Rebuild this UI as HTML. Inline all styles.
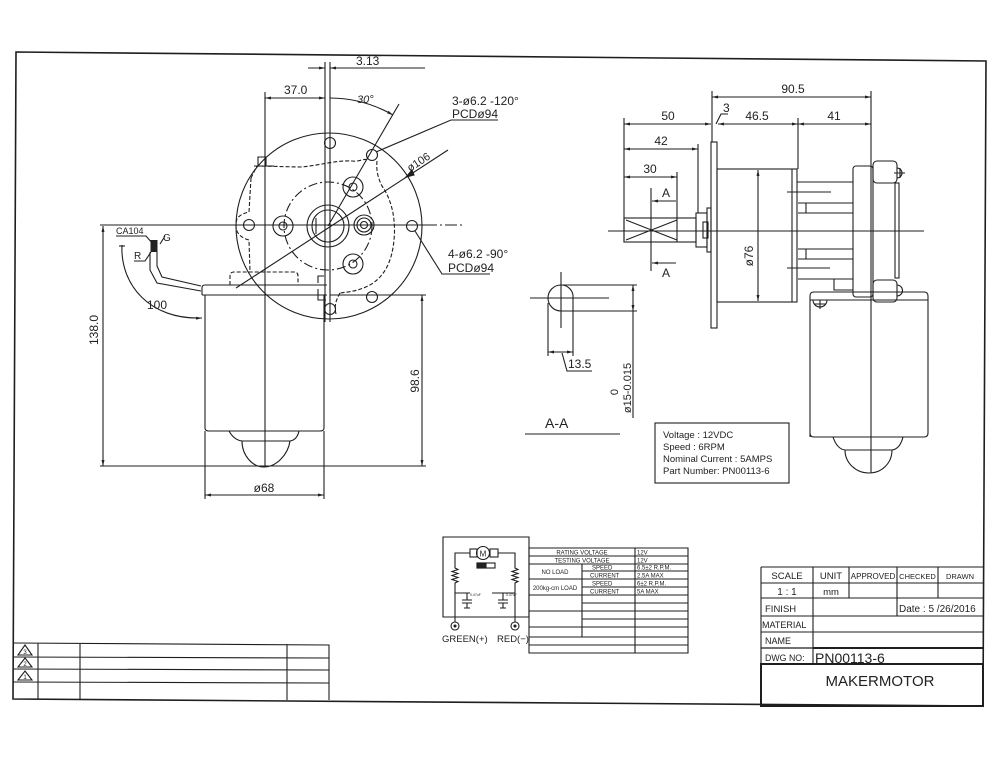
<!DOCTYPE html>
<html><head><meta charset="utf-8">
<style>
html,body{margin:0;padding:0;background:#fff;}
svg{display:block;}
text{font-family:"Liberation Sans",sans-serif;fill:#222;stroke:none;}
</style></head><body>
<svg width="1000" height="773" viewBox="0 0 1000 773" xmlns="http://www.w3.org/2000/svg">
<defs>
<marker id="ar" viewBox="0 0 8 4" refX="8" refY="2" markerWidth="8" markerHeight="3" markerUnits="userSpaceOnUse" orient="auto-start-reverse">
<path d="M0,0 L8,2 L0,4 z" fill="#222"/></marker>
</defs>
<rect width="1000" height="773" fill="#fff"/>
<g stroke="#1e1e1e" stroke-width="1.1" fill="none">
<!-- page border -->
<path d="M16,52 L986,61 L983,706 L13,699 Z" stroke-width="1.6"/>

<!-- ===== FRONT VIEW ===== -->
<circle cx="329" cy="226" r="93"/>
<circle cx="328" cy="226" r="44" stroke-dasharray="9,3,2,3"/>
<circle cx="330" cy="143" r="5.5"/>
<circle cx="249" cy="225" r="5.5"/>
<circle cx="412" cy="226" r="5.5"/>
<circle cx="372" cy="155" r="5.5"/>
<circle cx="372" cy="297" r="5.5"/>
<circle cx="330" cy="309" r="5.5"/>
<circle cx="353" cy="187" r="10"/><circle cx="353" cy="187" r="4"/>
<circle cx="283" cy="226" r="10"/><circle cx="283" cy="226" r="4"/>
<circle cx="364" cy="225" r="10"/><circle cx="364" cy="225" r="7"/><circle cx="364" cy="225" r="3.5"/>
<circle cx="353" cy="264" r="10"/><circle cx="353" cy="264" r="4"/>
<circle cx="328" cy="226" r="21"/><circle cx="328" cy="226" r="16"/>
<path d="M316,218 L316,234"/>
<!-- dashed gearbox outline -->
<g stroke-dasharray="4,2">
<path d="M251,178 L257,166 L300,167 C318,166 335,160 352,161 C360,162 364,158 367,160"/>
<path d="M377,161 C376,170 378,178 382,186 C392,200 396,220 394,240 C392,262 384,278 368,286 C358,291 348,292 340,293"/>
<path d="M251,178 L249,212 C240,214 235,218 236,226 C236,234 242,238 249,240 L250,272"/>
<path d="M230,285 L230,276 Q230,272 234,272 L294,272 Q298,272 298,276 L298,285"/>
<path d="M340,293 C336,300 334,306 336,314"/>
</g>
<path d="M258,166 L258,157 L266,157 L266,166 M254,166 L274,166"/>
<path d="M318,283 L318,276 L324,276 M318,289 L318,300 L326,300"/>
<!-- center lines -->
<line x1="325" y1="62" x2="325" y2="322"/>
<line x1="330" y1="62" x2="330" y2="322"/>
<line x1="100" y1="225" x2="425" y2="225"/>
<line x1="425" y1="225" x2="462" y2="225" stroke-dasharray="12,3,2,3"/>
<line x1="265" y1="92" x2="265" y2="467"/>
<!-- 3.13 -->
<line x1="308" y1="68" x2="325" y2="68" marker-end="url(#ar)"/>
<line x1="330" y1="68" x2="425" y2="68" marker-start="url(#ar)"/>
<!-- 37.0 -->
<line x1="265" y1="98" x2="325" y2="98" marker-start="url(#ar)" marker-end="url(#ar)"/>
<!-- 30 deg -->
<path d="M330,98 A128,128 0 0,1 393,115" marker-end="url(#ar)"/>
<line x1="328" y1="226" x2="399" y2="104"/>
<!-- 3-phi leader -->
<path d="M376,152 L451,120 L498,120"/>
<!-- phi106 -->
<line x1="236" y1="288" x2="448" y2="150"/>
<path d="M406,177 L412,170 L414,175 z" fill="#222"/>
<!-- 4-phi leader -->
<path d="M415,231 L442,274 L490,274"/>
<!-- motor -->
<path d="M205,285 L327,285 M202,295 L327,295 M205,285 Q202,285 202,288 L202,295"/>
<path d="M205,295 L205,428 Q205,431 209,431 L320,431 Q324,431 324,428 L324,295"/>
<path d="M229,431 Q234,440 242,441 L290,441 Q297,440 299,431"/>
<path d="M242,441 C242,455 252,467 264,467 C276,467 288,455 290,441"/>
<!-- wires -->
<path d="M150,252 L150,270 L157,283 L201,291"/>
<path d="M157,252 L157,266 L162,277 L201,286"/>
<path d="M154,240 L154,252" stroke-width="7" stroke="#222"/>
<path d="M116,236 L146,236 L153,244"/>
<path d="M134,261 L145,261 L151,252"/>
<path d="M160,244 L165,236"/>
<!-- 100 arc -->
<path d="M122,245 C120,285 150,320 202,318" marker-end="url(#ar)"/>
<line x1="119" y1="246" x2="125" y2="246"/>
<!-- 138.0 -->
<line x1="103" y1="226" x2="103" y2="466" marker-start="url(#ar)" marker-end="url(#ar)"/>
<line x1="100" y1="466" x2="426" y2="466"/>
<!-- 98.6 -->
<line x1="330" y1="295" x2="426" y2="295"/>
<line x1="422" y1="295" x2="422" y2="466" marker-start="url(#ar)" marker-end="url(#ar)"/>
<!-- phi68 -->
<line x1="205" y1="431" x2="205" y2="499"/>
<line x1="324" y1="431" x2="324" y2="499"/>
<line x1="205" y1="495" x2="324" y2="495" marker-start="url(#ar)" marker-end="url(#ar)"/>

<!-- ===== SECTION A-A ===== -->
<path d="M573,311 L561,311 A13,13 0 0,1 561,285 A12,12 0 0,1 573,295 Z"/>
<line x1="530" y1="298" x2="609" y2="298"/>
<line x1="561" y1="272" x2="561" y2="328"/>
<line x1="561" y1="285" x2="637" y2="285"/>
<line x1="573" y1="311" x2="637" y2="311"/>
<line x1="633" y1="285" x2="633" y2="311" marker-start="url(#ar)" marker-end="url(#ar)"/>
<line x1="633" y1="311" x2="633" y2="418"/>
<line x1="548" y1="303" x2="548" y2="356"/>
<line x1="573" y1="311" x2="573" y2="356"/>
<line x1="548" y1="352" x2="573" y2="352" marker-start="url(#ar)" marker-end="url(#ar)"/>
<path d="M562,353 L567,371 L592,371"/>
<line x1="525" y1="434" x2="620" y2="434"/>

<!-- spec box -->
<rect x="655" y="423" width="134" height="60"/>

<!-- ===== SIDE VIEW ===== -->
<line x1="712" y1="97" x2="871" y2="97" marker-start="url(#ar)" marker-end="url(#ar)"/>
<line x1="712" y1="91" x2="712" y2="142"/>
<line x1="871" y1="91" x2="871" y2="473"/>
<path d="M716,124 L721,114 L728,114"/>
<line x1="624" y1="124" x2="711" y2="124" marker-start="url(#ar)" marker-end="url(#ar)"/>
<line x1="718" y1="124" x2="798" y2="124" marker-start="url(#ar)" marker-end="url(#ar)"/>
<line x1="798" y1="124" x2="871" y2="124" marker-start="url(#ar)" marker-end="url(#ar)"/>
<line x1="798" y1="118" x2="798" y2="169"/>
<line x1="624" y1="118" x2="624" y2="242"/>
<line x1="624" y1="149" x2="698" y2="149" marker-start="url(#ar)" marker-end="url(#ar)"/>
<line x1="698" y1="144" x2="698" y2="213"/>
<line x1="624" y1="177" x2="677" y2="177" marker-start="url(#ar)" marker-end="url(#ar)"/>
<line x1="677" y1="172" x2="677" y2="218"/>
<!-- shaft -->
<rect x="624" y="218" width="72" height="24"/>
<path d="M626,220 L677,240 M626,240 L677,220 M677,218 L677,242"/>
<rect x="696" y="213" width="11" height="34"/>
<rect x="707" y="208" width="4" height="44"/>
<rect x="703" y="222" width="5" height="16"/>
<!-- section marks -->
<line x1="651" y1="188" x2="651" y2="271"/>
<line x1="676" y1="201" x2="652" y2="201" marker-end="url(#ar)"/>
<line x1="676" y1="263" x2="652" y2="263" marker-end="url(#ar)"/>
<!-- plate and housing -->
<rect x="711" y="142" width="6" height="186"/>
<rect x="717" y="169" width="80" height="133"/>
<line x1="792" y1="169" x2="792" y2="302"/>
<line x1="758" y1="170" x2="758" y2="301" marker-start="url(#ar)" marker-end="url(#ar)"/>
<line x1="608" y1="231" x2="924" y2="231"/>
<line x1="787" y1="192" x2="831" y2="192"/>
<line x1="787" y1="268" x2="830" y2="268"/>
<!-- spacers -->
<path d="M797,182 L853,182 M798,203 L853,203 M798,213 L853,213 M806,203 L806,213"/>
<path d="M798,249 L853,249 M798,259 L853,259 M806,249 L806,259 M798,279 L853,279 M834,279 L834,290 L853,290"/>
<!-- end cap -->
<rect x="853" y="166" width="20" height="131" rx="3"/>
<rect x="873" y="161" width="24" height="22" rx="4"/>
<rect x="873" y="280" width="24" height="22" rx="4"/>
<path d="M897,168 A5,5 0 0,1 897,178 M894,173 L905,173 M900,168 L900,178"/>
<path d="M897,285 A5,5 0 0,1 897,296"/>
<rect x="895" y="183" width="4" height="95"/>
<!-- bottom motor side view -->
<path d="M810,437 L810,296 Q810,292 814,292 L924,292 Q928,292 928,296 L928,433 Q928,437 924,437 L814,437 Q810,437 810,433"/>
<line x1="810" y1="300" x2="928" y2="300"/>
<path d="M813,300 A7,7 0 0,0 827,300 M820,300 L820,309 M814,304 L826,304"/>
<path d="M833,437 Q837,449 845,450 L892,450 Q900,449 903,437"/>
<path d="M845,450 C845,463 856,473 869,473 C882,473 892,463 892,450"/>

<!-- ===== CIRCUIT ===== -->
<path d="M443,537 L529,537 L529,617 L443,617 Z"/>
<circle cx="483" cy="553" r="6.5"/>
<rect x="470" y="549" width="7" height="8"/>
<rect x="490" y="549" width="8" height="8"/>
<path d="M470,553 L455,553 L455,568 l3,1.5 l-6,2 l6,2 l-6,2 l6,2 l-6,2 l6,2 l-3,1.5 L455,622"/>
<path d="M498,553 L515,553 L515,568 l3,1.5 l-6,2 l6,2 l-6,2 l6,2 l-6,2 l6,2 l-3,1.5 L515,622"/>
<path d="M455,593 L470,593 M492,593 L515,593"/>
<path d="M467,593 L467,600 M462,600 L472,600 M462,603 L472,603 M467,603 L467,608 M464,608 L470,608"/>
<path d="M503,593 L503,600 M498,600 L508,600 M498,603 L508,603 M503,603 L503,608 M500,608 L506,608"/>
<rect x="477" y="563" width="18" height="5"/>
<rect x="477" y="563" width="9" height="5" fill="#222"/>
<circle cx="455" cy="626" r="4"/><circle cx="455" cy="626" r="1" fill="#222"/>
<circle cx="515" cy="626" r="4"/><circle cx="515" cy="626" r="1" fill="#222"/>
<!-- table -->
<path d="M529,548 L688,548 L688,653 L529,653 Z"/>
<path d="M529,556 L688,556 M529,564 L688,564 M582,571 L688,571 M529,579 L688,579 M582,587 L688,587 M529,595 L688,595 M582,603 L688,603 M529,611 L688,611 M582,619 L688,619 M529,627 L688,627 M529,637 L688,637 M529,645 L688,645"/>
<path d="M582,564 L582,637 M635,548 L635,653"/>

<!-- ===== TITLE BLOCK ===== -->
<path d="M761,567 L983,567 M761,583 L983,583 M761,598 L983,598 M761,616 L983,616 M761,632 L983,632 M761,567 L761,706"/>
<path d="M813,567 L813,664 M849,567 L849,598 M897,567 L897,616 M938,567 L938,598"/>
<path d="M761,648 L983,648" stroke-width="1.3"/>
<path d="M813,648 L983,648 M761,664 L983,664 L983,706 L761,706 Z" stroke-width="2"/>

<!-- ===== REVISION BLOCK ===== -->
<path d="M13,643 L329,645 L329,700 M13,657 L329,658 M13,669 L329,670 M13,682 L329,683 M38,643 L38,699 M80,643 L80,699 M287,644 L287,700"/>
<path d="M25,645 L32,655 L18,655 Z M25,658 L32,667 L18,667 Z M25,671 L32,680 L18,680 Z"/>
</g>

<!-- ===== TEXT ===== -->
<g font-size="12">
<text x="356" y="65">3.13</text>
<text x="284" y="94">37.0</text>
<text x="357" y="103" font-style="italic" font-size="11">30°</text>
<text x="452" y="105">3-ø6.2  -120°</text>
<text x="452" y="118">PCDø94</text>
<text x="448" y="258">4-ø6.2  -90°</text>
<text x="448" y="272">PCDø94</text>
<text transform="translate(410,172) rotate(-33)" font-size="11">ø106</text>
<text x="116" y="234" font-size="9">CA104</text>
<text x="163" y="241" font-size="10">G</text>
<text x="134" y="259" font-size="10">R</text>
<text x="147" y="309">100</text>
<text transform="translate(98,330) rotate(-90)" text-anchor="middle">138.0</text>
<text transform="translate(419,381) rotate(-90)" text-anchor="middle">98.6</text>
<text x="264" y="492" text-anchor="middle">ø68</text>
<text x="568" y="368">13.5</text>
<text transform="translate(631,388) rotate(-90)" text-anchor="middle" font-size="11">ø15-0.015</text>
<text transform="translate(618,392) rotate(-90)" text-anchor="middle" font-size="11">0</text>
<text x="545" y="428" font-size="14">A-A</text>
<text x="793" y="93" text-anchor="middle">90.5</text>
<text x="723" y="112">3</text>
<text x="668" y="120" text-anchor="middle">50</text>
<text x="757" y="120" text-anchor="middle">46.5</text>
<text x="834" y="120" text-anchor="middle">41</text>
<text x="661" y="145" text-anchor="middle">42</text>
<text x="650" y="173" text-anchor="middle">30</text>
<text x="666" y="197" text-anchor="middle">A</text>
<text x="666" y="277" text-anchor="middle">A</text>
<text transform="translate(753,256) rotate(-90)" text-anchor="middle">ø76</text>
</g>
<g font-size="9.5">
<text x="663" y="438">Voltage : 12VDC</text>
<text x="663" y="450">Speed :  6RPM</text>
<text x="663" y="462">Nominal Current : 5AMPS</text>
<text x="663" y="474">Part Number: PN00113-6</text>
</g>
<!-- circuit text -->
<text x="483" y="556.5" font-size="8" text-anchor="middle">M</text>
<text x="470" y="596" font-size="3.5">0.47uF</text>
<text x="506" y="596" font-size="3.5">0.47uF</text>
<text x="442" y="642" font-size="9.5">GREEN(+)</text>
<text x="497" y="642" font-size="9.5">RED(−)</text>
<g font-size="6" font-family="Liberation Sans Narrow, Liberation Sans, sans-serif">
<text x="582" y="554.5" text-anchor="middle">RATING VOLTAGE</text>
<text x="637" y="554.5">12V</text>
<text x="582" y="562.5" text-anchor="middle">TESTING VOLTAGE</text>
<text x="637" y="562.5">12V</text>
<text x="555" y="574" text-anchor="middle">NO LOAD</text>
<text x="592" y="569.5">SPEED</text>
<text x="637" y="569.5">6.5±2 R.P.M.</text>
<text x="590" y="577.5">CURRENT</text>
<text x="637" y="577.5">2.5A MAX</text>
<text x="555" y="590" text-anchor="middle">200kg-cm LOAD</text>
<text x="592" y="585.5">SPEED</text>
<text x="637" y="585.5">6±2 R.P.M.</text>
<text x="590" y="593.5">CURRENT</text>
<text x="637" y="593.5">5A MAX</text>
</g>
<!-- title block text -->
<text x="787" y="579" font-size="9.5" text-anchor="middle">SCALE</text>
<text x="831" y="579" font-size="9.5" text-anchor="middle">UNIT</text>
<text x="873" y="579" font-size="8" text-anchor="middle">APPROVED</text>
<text x="917.5" y="579" font-size="7.5" text-anchor="middle">CHECKED</text>
<text x="960" y="579" font-size="7.5" text-anchor="middle">DRAWN</text>
<text x="787" y="595" font-size="10" text-anchor="middle">1 : 1</text>
<text x="831" y="595" font-size="9.5" text-anchor="middle">mm</text>
<text x="765" y="612" font-size="9.5">FINISH</text>
<text x="899" y="612" font-size="10">Date : 5 /26/2016</text>
<text x="762" y="628" font-size="9">MATERIAL</text>
<text x="765" y="644" font-size="9">NAME</text>
<text x="765" y="661" font-size="8.8">DWG NO:</text>
<text x="815" y="663" font-size="14">PN00113-6</text>
<text x="880" y="686" font-size="15" text-anchor="middle">MAKERMOTOR</text>
<g font-size="6" text-anchor="middle">
<text x="25" y="654">3</text>
<text x="25" y="666">2</text>
<text x="25" y="679">1</text>
</g>
</svg>
</body></html>
